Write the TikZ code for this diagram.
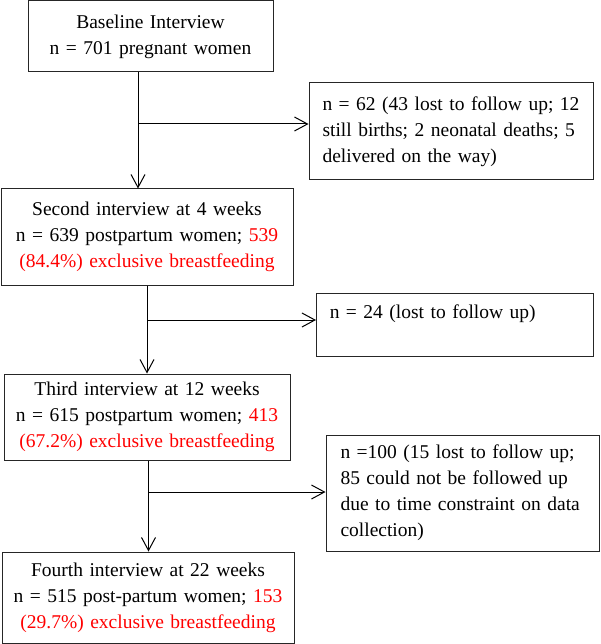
\documentclass[tikz,border=0pt]{standalone}
\usepackage{fontspec}
\setmainfont{Liberation Serif}
\usetikzlibrary{arrows.meta}
\begin{document}
\begin{tikzpicture}[x=1pt,y=-1pt,
 box/.style={draw=black!85, line width=1pt, inner sep=0pt, font=\fontsize{19.5}{26}\selectfont},
 cbox/.style={box, align=center},
 lbox/.style={box, align=left},
 arr/.style={line width=1pt, -{Straight Barb[length=13pt,width=14pt,line width=1pt]}}]
\useasboundingbox (0,0) rectangle (600,644);
\node[cbox, minimum width=245pt, minimum height=71pt, text width=235pt] (b1) at (150.5,36.5)
  {Baseline Interview\\n = 701 pregnant women};
\node[lbox, minimum width=284pt, minimum height=97pt, text width=257pt] (b2) at (451,131.5)
  {n = 62 (43 lost to follow up; 12\\still births; 2 neonatal deaths; 5\\delivered on the way)};
\node[cbox, minimum width=292pt, minimum height=96pt, text width=284pt] (b3) at (147,237)
  {Second interview at 4 weeks\\n = 639 postpartum women; \textcolor{red}{539}\\\textcolor{red}{(84.4\%) exclusive breastfeeding}};
\node[lbox, minimum width=276.5pt, minimum height=63pt, text width=250pt] (b4) at (454.75,324.5)
  {n = 24 (lost to follow up)\\\mbox{}};
\node[cbox, minimum width=286pt, minimum height=86pt, text width=280pt] (b5) at (147,417)
  {Third interview at 12 weeks\\n = 615 postpartum women; \textcolor{red}{413}\\\textcolor{red}{(67.2\%) exclusive breastfeeding}};
\node[lbox, minimum width=273pt, minimum height=116pt, text width=244pt] (b6) at (462.5,493)
  {n =100 (15 lost to follow up;\\85 could not be followed up\\due to time constraint on data\\collection)};
\node[cbox, minimum width=292pt, minimum height=91pt, text width=286pt] (b7) at (148,597.5)
  {Fourth interview at 22 weeks\\n = 515 post-partum women; \textcolor{red}{153}\\\textcolor{red}{(29.7\%) exclusive breastfeeding}};
% connectors
\coordinate (j1) at (138,124);
\coordinate (j2) at (147,320);
\coordinate (j3) at (148.5,492);
\draw[arr] ([xshift=-12.5pt]b1.south) -- ([xshift=-12.5pt]b1.south |- b3.north);
\draw[arr] (j1) -- (j1 -| b2.west);
\draw[arr] (b3.south) -- (b3.south |- b5.north);
\draw[arr] (j2) -- (j2 -| b4.west);
\draw[arr] ([xshift=1.5pt]b5.south) -- ([xshift=1.5pt]b5.south |- b7.north);
\draw[arr] (j3) -- (j3 -| b6.west);
\end{tikzpicture}
\end{document}
